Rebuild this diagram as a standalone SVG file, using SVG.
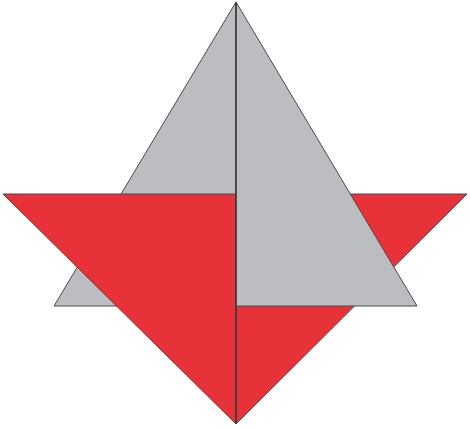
<svg xmlns="http://www.w3.org/2000/svg" width="470" height="428" viewBox="0 0 470 428">
<style>
.g{fill:#bcbdc0;stroke:#4a4a4a;stroke-width:1;stroke-linejoin:round}
.r{fill:#e8323a;stroke:#4a4a4a;stroke-width:1;stroke-linejoin:round}
</style>
<rect width="470" height="428" fill="#fff"/>
<g id="gray-left"><polygon class="g" points="236,2 54,306 236,306"/></g>
<g id="red-left"><polygon class="r" points="3,194 236,194 236,424"/></g>
<g id="red-right"><polygon class="r" points="236,194 467,194 236,424"/></g>
<g id="gray-right"><polygon class="g" points="236,2 417,306 236,306"/></g>
<g id="connectors"><line x1="236" y1="2" x2="236" y2="424" stroke="#3a3a3a" stroke-width="1.5"/></g>
</svg>
